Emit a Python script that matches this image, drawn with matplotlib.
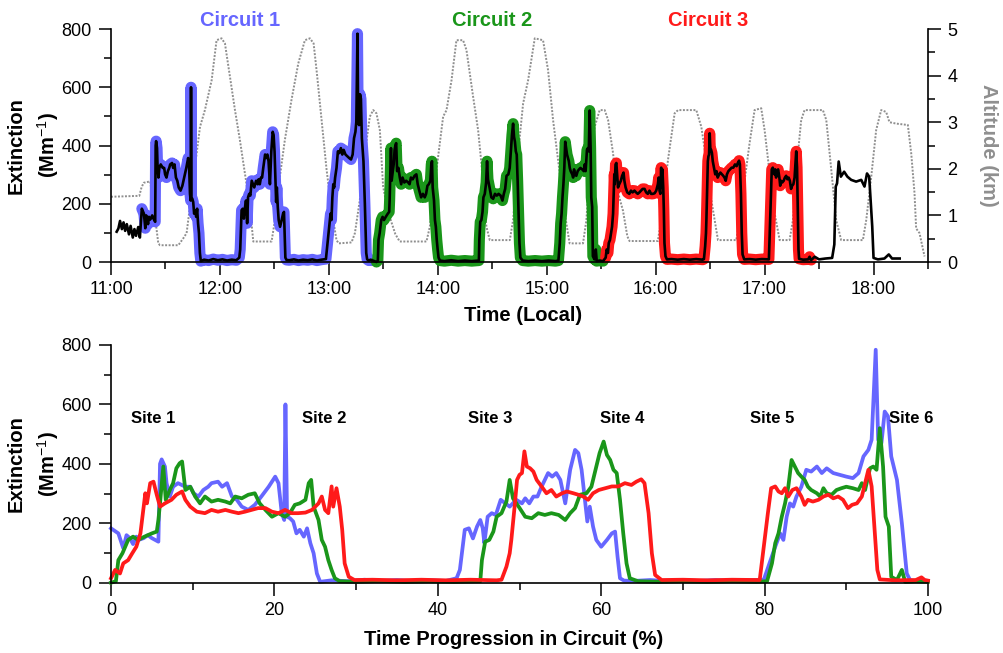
import matplotlib
matplotlib.use("Agg")
import matplotlib.pyplot as plt
import numpy as np
from matplotlib.ticker import FixedLocator, MultipleLocator

plt.rcParams['font.family'] = ['Liberation Sans', 'DejaVu Sans']
plt.rcParams['mathtext.fontset'] = 'custom'
plt.rcParams['mathtext.rm'] = 'Liberation Sans'
plt.rcParams['mathtext.it'] = 'Liberation Sans:italic'
plt.rcParams['mathtext.bf'] = 'Liberation Sans:bold'

# ---------------- data ----------------
# Extinction per circuit: (time progression in circuit %, extinction Mm-1)
circuit1 = [(0, 183), (0.9, 166), (1.5, 116), (1.9, 160), (2.3, 150), (2.7, 130), (3.1, 155), (3.5, 145),
            (4.0, 150), (4.5, 160), (5.0, 150), (5.4, 144), (5.8, 138), (6.0, 400), (6.2, 415), (6.6, 391),
            (6.8, 335), (7.2, 290), (7.6, 323), (8.2, 335), (9.1, 323), (9.7, 323), (10.1, 301), (10.7, 290),
            (11.3, 312), (11.9, 323), (12.3, 335), (13.1, 340), (13.6, 323), (14.2, 335), (14.8, 290),
            (15.4, 279), (16.0, 256), (16.8, 245), (17.6, 262), (18.4, 290), (19.3, 323), (20.1, 357),
            (20.5, 335), (20.9, 234), (21.2, 211), (21.35, 600), (21.55, 222), (21.9, 217), (22.3, 206),
            (22.7, 166), (23.1, 178), (23.6, 155), (24.0, 183), (24.4, 133), (24.8, 99), (25.2, 31), (25.6, 3),
            (27, 8), (29, 5), (31, 10), (33, 6), (35, 9), (37, 5), (39, 8), (41, 6), (42.3, 15), (42.7, 43),
            (43.3, 178), (43.8, 183), (44.3, 149), (44.8, 189), (45.2, 211), (45.5, 183), (45.7, 133),
            (46.1, 222), (46.6, 234), (47.1, 228), (47.7, 279), (48.8, 256), (49.6, 279), (50.3, 267),
            (50.7, 284), (51.2, 267), (51.7, 290), (52.2, 290), (52.7, 323), (53.5, 369), (54.0, 357),
            (54.5, 369), (55.0, 346), (55.6, 267), (56.2, 380), (56.8, 447), (57.2, 436), (57.6, 380),
            (58.0, 279), (58.3, 206), (58.6, 256), (59.0, 189), (59.4, 144), (60.0, 121), (60.7, 144),
            (61.3, 166), (61.7, 172), (62.0, 88), (62.3, 15), (62.8, 7), (64, 6), (66, 9), (68, 5), (70, 8),
            (72, 6), (74, 9), (76, 5), (78, 8), (79.9, 10), (80.6, 65), (81.3, 121), (81.9, 166), (82.3, 144),
            (82.7, 222), (83.1, 267), (83.5, 256), (83.9, 290), (84.5, 323), (85.1, 380), (85.7, 374),
            (86.4, 391), (87.0, 369), (87.6, 385), (88.4, 369), (89.2, 363), (90.0, 357), (90.8, 352),
            (91.5, 369), (92.1, 425), (92.7, 447), (93.1, 481), (93.6, 784), (93.9, 481), (94.3, 470),
            (94.7, 576), (95.1, 560), (95.5, 425), (96.2, 346), (96.8, 200), (97.4, 31), (97.8, 9),
            (98.5, 5), (99.3, 8), (100, 6)]

circuit2 = [(0, 0), (0.6, 5), (0.9, 76), (1.4, 99), (2.1, 144), (2.7, 155), (3.3, 144), (4.1, 155), (5.0, 166),
            (5.6, 172), (5.8, 211), (6.0, 267), (6.4, 391), (6.7, 279), (7.2, 312), (7.6, 335), (8.0, 385),
            (8.4, 402), (8.7, 408), (9.1, 312), (9.7, 323), (10.3, 290), (10.9, 267), (11.5, 290), (12.3, 273),
            (13.1, 279), (14.0, 273), (14.6, 267), (15.2, 290), (16.0, 284), (16.8, 296), (17.6, 301),
            (18.2, 267), (18.9, 245), (19.7, 222), (20.5, 234), (21.3, 222), (21.9, 234), (22.5, 262),
            (23.1, 267), (23.8, 279), (24.2, 335), (24.5, 346), (24.8, 256), (25.4, 211), (25.8, 144),
            (26.2, 121), (26.6, 76), (27.0, 43), (27.4, 15), (28, 5), (30, 3), (33, 6), (36, 3), (39, 5),
            (42, 3), (45.2, 5), (45.4, 76), (45.8, 138), (46.3, 144), (46.8, 172), (47.2, 222), (47.8, 234),
            (48.4, 273), (48.8, 346), (49.2, 284), (49.9, 256), (50.7, 222), (51.5, 217), (52.3, 234),
            (53.1, 228), (53.9, 234), (54.8, 228), (55.6, 211), (56.2, 234), (56.8, 251), (57.4, 296),
            (58.2, 301), (58.8, 323), (59.4, 391), (59.8, 436), (60.3, 475), (60.7, 430), (61.1, 413),
            (61.5, 380), (61.9, 369), (62.3, 279), (62.7, 166), (63.1, 65), (63.5, 15), (64.5, 5), (67, 3),
            (70, 5), (73, 3), (76, 5), (79, 3), (80.3, 5), (80.9, 65), (81.3, 133), (81.7, 166), (82.1, 222),
            (82.5, 267), (82.9, 323), (83.3, 413), (83.7, 391), (84.1, 369), (84.5, 357), (84.9, 346),
            (85.3, 323), (85.7, 312), (86.4, 301), (86.8, 290), (87.2, 318), (87.6, 301), (88.2, 296),
            (88.8, 312), (89.4, 318), (90.0, 323), (90.8, 318), (91.5, 312), (91.9, 335), (92.3, 312),
            (92.9, 385), (93.3, 391), (93.7, 380), (94.1, 520), (94.5, 391), (94.8, 222), (95.2, 189),
            (95.5, 20), (96.2, 9), (96.8, 43), (97.2, 3), (98.5, 5), (100, 3)]

circuit3 = [(0, 15), (0.5, 43), (1.1, 31), (1.5, 65), (2.1, 76), (2.6, 99), (3.1, 121), (3.6, 166), (4.0, 256),
            (4.2, 301), (4.4, 267), (4.8, 335), (5.2, 340), (5.6, 296), (6.0, 256), (6.6, 267), (7.4, 279),
            (8.0, 296), (8.7, 307), (9.1, 279), (9.7, 256), (10.5, 239), (11.5, 234), (12.3, 245), (13.1, 239),
            (14.0, 245), (14.8, 239), (15.6, 234), (16.4, 239), (17.2, 245), (18.0, 251), (18.9, 251),
            (19.7, 239), (20.5, 234), (21.3, 245), (22.1, 234), (22.9, 234), (23.8, 236), (24.6, 245),
            (25.4, 267), (25.8, 290), (26.2, 245), (26.6, 234), (27.0, 324), (27.2, 256), (27.6, 318),
            (28.0, 256), (28.3, 178), (28.6, 65), (29.1, 20), (29.8, 9), (32, 10), (35, 8), (38, 10), (41, 8),
            (44, 10), (47.2, 8), (47.8, 10), (48.4, 54), (48.8, 99), (49.0, 144), (49.4, 256), (49.7, 346),
            (50.0, 363), (50.3, 369), (50.6, 442), (50.9, 391), (51.3, 385), (51.7, 374), (52.1, 346),
            (52.7, 324), (53.3, 301), (53.9, 312), (54.5, 290), (55.2, 301), (55.8, 307), (56.6, 301),
            (57.2, 296), (57.8, 290), (58.4, 279), (59.0, 301), (59.7, 312), (60.5, 318), (61.3, 324),
            (62.1, 324), (62.9, 335), (63.7, 329), (64.3, 340), (64.9, 348), (65.3, 335), (65.8, 234),
            (66.2, 99), (66.6, 26), (67.4, 9), (70, 10), (73, 8), (76, 10), (79.4, 9), (80.0, 144),
            (80.4, 234), (80.8, 318), (81.3, 324), (81.7, 307), (82.1, 301), (82.5, 318), (82.9, 290),
            (83.4, 312), (83.9, 318), (84.5, 290), (84.9, 262), (85.3, 279), (85.9, 273), (86.6, 279),
            (87.2, 290), (87.8, 296), (88.4, 284), (89.0, 290), (89.6, 279), (90.2, 251), (90.7, 262),
            (91.3, 267), (91.9, 290), (92.3, 335), (92.7, 380), (93.1, 324), (93.5, 166), (93.8, 43),
            (94.1, 11), (96, 8), (98.5, 9), (99.2, 18), (99.6, 9), (100, 7)]

# circuit start / end (local time, decimal hours)
circuit_start = [11.283, 13.437, 15.541]
circuit_end = [13.398, 15.517, 17.428]
circuit_names = ["Circuit 1", "Circuit 2", "Circuit 3"]
circuit_colors = ["#6666ff", "#1a961a", "#ff1a1a"]
circuit_label_x = [12.186, 14.495, 16.482]

# extinction outside the circuits: (local time h, extinction)
pre_circuit = [(11.052, 104), (11.068, 115), (11.083, 141), (11.10, 113), (11.115, 136), (11.13, 107),
               (11.145, 130), (11.165, 95), (11.18, 124), (11.20, 84), (11.215, 113), (11.23, 90),
               (11.25, 120), (11.265, 84), (11.283, 183)]
post_circuit = [(17.428, 7), (17.46, 18), (17.50, 9), (17.56, 12), (17.62, 14), (17.64, 60), (17.653, 259),
                (17.665, 270), (17.68, 345), (17.70, 293), (17.73, 310), (17.76, 293), (17.795, 282),
                (17.84, 276), (17.887, 282), (17.917, 259), (17.94, 304), (17.96, 293), (17.988, 122),
                (18.0, 14), (18.04, 9), (18.10, 12), (18.14, 26), (18.17, 12), (18.24, 12)]

# altitude (local time h, km)
altitude = [(11.0, 1.40), (11.26, 1.42), (11.28, 1.60), (11.30, 1.70), (11.36, 1.73), (11.40, 1.05),
            (11.434, 0.40), (11.45, 0.36), (11.618, 0.36), (11.664, 0.51), (11.694, 0.62), (11.725, 1.19),
            (11.755, 1.76), (11.786, 2.33), (11.817, 2.90), (11.862, 3.26), (11.924, 3.90), (11.969, 4.76),
            (12.015, 4.80), (12.046, 4.69), (12.092, 3.98), (12.138, 3.26), (12.183, 2.62), (12.229, 1.91),
            (12.275, 1.19), (12.306, 0.44), (12.474, 0.44), (12.505, 0.90), (12.55, 1.83), (12.596, 2.62),
            (12.657, 3.48), (12.719, 4.26), (12.78, 4.76), (12.826, 4.80), (12.86, 4.69), (12.89, 4.05),
            (12.933, 3.05), (12.979, 1.98), (13.025, 1.12), (13.07, 0.47), (13.09, 0.40), (13.208, 0.42),
            (13.239, 0.62), (13.284, 1.33), (13.33, 2.33), (13.376, 3.12), (13.407, 3.26), (13.437, 3.19),
            (13.468, 2.83), (13.498, 1.62), (13.54, 1.10), (13.61, 0.60), (13.65, 0.44), (13.896, 0.44),
            (13.927, 0.76), (13.988, 1.98), (14.049, 3.12), (14.08, 3.26), (14.126, 3.90), (14.171, 4.76),
            (14.232, 4.76), (14.263, 4.55), (14.324, 3.55), (14.37, 2.83), (14.40, 2.12), (14.446, 0.76),
            (14.477, 0.47), (14.661, 0.47), (14.691, 0.90), (14.737, 2.33), (14.783, 3.40), (14.829, 3.90),
            (14.89, 4.80), (14.966, 4.76), (15.012, 4.12), (15.058, 3.05), (15.104, 2.19), (15.165, 1.05),
            (15.21, 0.40), (15.333, 0.40), (15.364, 0.90), (15.394, 1.98), (15.44, 2.90), (15.486, 3.26),
            (15.532, 3.26), (15.563, 3.05), (15.609, 2.33), (15.639, 1.62), (15.70, 1.10), (15.74, 0.55),
            (15.76, 0.45), (16.02, 0.45), (16.05, 0.90), (16.113, 2.19), (16.174, 3.19), (16.205, 3.26),
            (16.373, 3.26), (16.419, 2.90), (16.465, 2.19), (16.511, 1.33), (16.572, 0.47), (16.74, 0.47),
            (16.77, 0.90), (16.817, 1.76), (16.862, 2.55), (16.908, 3.26), (16.969, 3.30), (17.0, 2.83),
            (17.046, 1.91), (17.092, 1.05), (17.138, 0.47), (17.229, 0.47), (17.26, 0.90), (17.306, 2.33),
            (17.336, 3.05), (17.367, 3.26), (17.535, 3.26), (17.566, 3.05), (17.612, 1.98), (17.657, 0.90),
            (17.703, 0.47), (17.902, 0.47), (17.933, 0.90), (17.979, 1.83), (18.024, 2.83), (18.07, 3.26),
            (18.116, 3.22), (18.146, 3.00), (18.208, 2.97), (18.315, 2.94), (18.346, 2.33), (18.376, 1.48),
            (18.391, 0.72), (18.422, 0.62), (18.468, 0.12)]

time_ticks = [11, 12, 13, 14, 15, 16, 17, 18]
time_tick_labels = ["11:00", "12:00", "13:00", "14:00", "15:00", "16:00", "17:00", "18:00"]
site_names = ["Site 1", "Site 2", "Site 3", "Site 4", "Site 5", "Site 6"]
site_x = [5.18, 26.1, 46.4, 62.6, 80.9, 98.0]
site_y = 553

# ---------------- figure ----------------
fig = plt.figure(figsize=(10.04, 6.53), dpi=100)
ax1 = fig.add_axes([0.11056, 0.59877, 0.81375, 0.35681])
ax2 = fig.add_axes([0.11056, 0.10766, 0.81375, 0.36401])
axa = ax1.twinx()
ax1.set_zorder(axa.get_zorder() + 1)
ax1.patch.set_visible(False)

tick_kw = dict(labelsize=13, width=1.1, color='black', labelcolor='black', direction='out')

# altitude
at, av = zip(*altitude)
axa.plot(at, av, color='#8f8f8f', lw=1.4, ls=(0, (1, 0.8)), clip_on=False)

# top: highlights and black line
black_t, black_v = [], []
pt, pv = zip(*pre_circuit)
black_t += list(pt); black_v += list(pv)
for data, t0, t1, col in zip([circuit1, circuit2, circuit3], circuit_start, circuit_end, circuit_colors):
    p, v = map(np.array, zip(*data))
    t = t0 + p / 100.0 * (t1 - t0)
    ax1.plot(t, v, color=col, lw=8, solid_capstyle='round', solid_joinstyle='round', clip_on=False, zorder=2)
    black_t += list(t); black_v += list(v)
qt, qv = zip(*post_circuit)
black_t += list(qt); black_v += list(qv)
ax1.plot(black_t, black_v, color='black', lw=1.9, solid_joinstyle='round', clip_on=False, zorder=3)

for name, x, col in zip(circuit_names, circuit_label_x, circuit_colors):
    ax1.text(x, 828, name, color=col, fontsize=14.5, fontweight='bold', ha='center', va='center',
             clip_on=False)

ax1.set_xlim(11, 18.5)
ax1.set_ylim(0, 800)
axa.set_ylim(0, 5)
ax1.xaxis.set_major_locator(FixedLocator(time_ticks))
ax1.set_xticklabels(time_tick_labels)
ax1.xaxis.set_minor_locator(MultipleLocator(0.5))
ax1.yaxis.set_major_locator(MultipleLocator(200))
ax1.yaxis.set_minor_locator(MultipleLocator(100))
axa.yaxis.set_major_locator(MultipleLocator(1))
axa.yaxis.set_minor_locator(MultipleLocator(0.5))

for ax in (ax1, axa, ax2):
    ax.tick_params(which='major', length=9, pad=5, **tick_kw)
    ax.tick_params(which='minor', length=5, width=1.1, color='black', direction='out')
    for s in ax.spines.values():
        s.set_linewidth(1.2)

ax1.spines['top'].set_visible(False)
ax1.spines['right'].set_visible(False)
axa.spines['top'].set_visible(False)
axa.spines['left'].set_visible(False)
axa.spines['bottom'].set_visible(False)

ax1.set_ylabel("Extinction\n(Mm$^{-1}$)", fontsize=14.5, fontweight='bold', linespacing=1.5)
ax1.yaxis.set_label_coords(-0.061, 0.5)
ax1.set_xlabel("Time (Local)", fontsize=14.5, fontweight='bold')
ax1.xaxis.set_label_coords(0.504, -0.189)
axa.set_ylabel("Altitude (km)", fontsize=14.5, fontweight='bold', color='#8f8f8f', rotation=-90, va='bottom')
axa.yaxis.set_label_coords(1.063, 0.5)

# bottom
for data, col in zip([circuit1, circuit2, circuit3], circuit_colors):
    p, v = zip(*data)
    ax2.plot(p, v, color=col, lw=2.7, solid_joinstyle='round', clip_on=False)

for name, x in zip(site_names, site_x):
    ax2.text(x, site_y, name, fontsize=12, fontweight='bold', ha='center', va='center')

ax2.set_xlim(0, 100)
ax2.set_ylim(0, 800)
ax2.xaxis.set_major_locator(MultipleLocator(20))
ax2.xaxis.set_minor_locator(MultipleLocator(10))
ax2.yaxis.set_major_locator(MultipleLocator(200))
ax2.yaxis.set_minor_locator(MultipleLocator(100))
ax2.spines['top'].set_visible(False)
ax2.spines['right'].set_visible(False)
ax2.set_ylabel("Extinction\n(Mm$^{-1}$)", fontsize=14.5, fontweight='bold', linespacing=1.5)
ax2.yaxis.set_label_coords(-0.061, 0.5)
ax2.set_xlabel("Time Progression in Circuit (%)", fontsize=14.5, fontweight='bold')
ax2.xaxis.set_label_coords(0.4927, -0.199)

fig.savefig("out.png", dpi=100)
